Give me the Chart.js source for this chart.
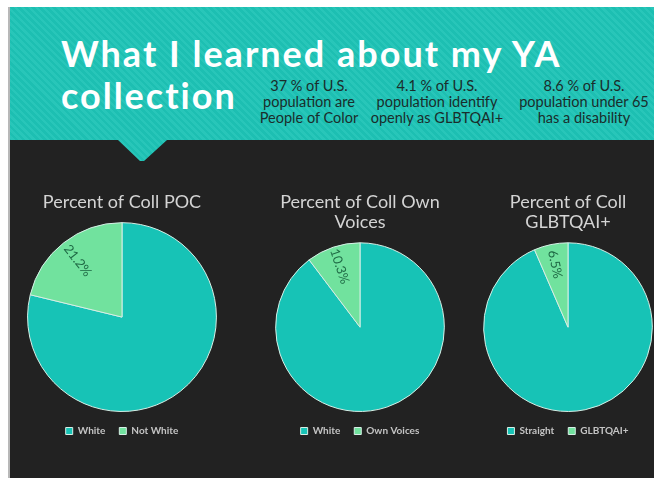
<!DOCTYPE html>
<html>
<head>
<meta charset="utf-8"/>
<style>
  html,body{margin:0;padding:0;background:#fff;width:654px;height:478px;overflow:hidden;position:relative;font-family:Lato,"Noto Sans",sans-serif;}
  .edge{position:absolute;left:8px;top:7px;width:2px;height:471px;background:#b8b8b8;}
  .slide{position:absolute;left:10px;top:7px;width:644px;height:471px;background:#222222;}
  .head{position:absolute;left:10px;top:7px;width:644px;height:156px;
    background:repeating-linear-gradient(45deg,#1dbfb2 0 2.5px,#28c6b9 2.5px 5px);
    clip-path:polygon(0 0,100% 0,100% 133px,157px 133px,134px 154px,130px 154px,108px 133px,0 133px);}
  .big{position:absolute;color:#fff;font-weight:700;font-size:36px;line-height:40px;letter-spacing:2px;white-space:nowrap;}
  .note{position:absolute;color:#1a2d2b;font-size:14.5px;line-height:16px;text-align:center;white-space:nowrap;transform:translateX(-50%);}
  canvas{position:absolute;}
</style>
</head>
<body>
<div class="slide"></div>
<div class="edge"></div>
<div class="head"></div>
<div class="big" style="left:61px;top:33px;">What I learned about my YA</div>
<div class="big" style="left:61px;top:75px;">collection</div>
<div class="note" style="left:309px;top:78px;">37 % of U.S.<br>population are<br>People of Color</div>
<div class="note" style="left:437px;top:78px;">4.1 % of U.S.<br>population identify<br>openly as GLBTQAI+</div>
<div class="note" style="left:584px;top:78px;">8.6 % of U.S.<br>population under 65<br>has a disability</div>

<canvas id="c1" width="210" height="256" style="left:17px;top:190px;"></canvas>
<canvas id="c2" width="210" height="256" style="left:255px;top:190px;"></canvas>
<canvas id="c3" width="210" height="256" style="left:463px;top:190px;"></canvas>

<script src="https://cdn.jsdelivr.net/npm/chart.js@4.4.0/dist/chart.umd.min.js"></script>
<script>
const TEAL = "#17c3b6";
const GREEN = "#71e29e";

// chart 1
const title1 = ["Percent of Coll POC"];
const cats1  = ["White", "Not White"];
const vals1  = [78.8, 21.2];
// chart 2
const title2 = ["Percent of Coll Own", "Voices"];
const cats2  = ["White", "Own Voices"];
const vals2  = [89.7, 10.3];
// chart 3
const title3 = ["Percent of Coll", "GLBTQAI+"];
const cats3  = ["Straight", "GLBTQAI+"];
const vals3  = [93.5, 6.5];

// rotated % label on the small slice, reading from the rim toward the centre
const sliceLabel = {
  id: "sliceLabel",
  afterDatasetsDraw(chart) {
    const ctx = chart.ctx;
    const arc = chart.getDatasetMeta(0).data[1];
    const v = chart.data.datasets[0].data[1];
    const mid = (arc.startAngle + arc.endAngle) / 2;
    const r = arc.outerRadius * 0.76;
    ctx.save();
    ctx.translate(arc.x + Math.cos(mid) * r, arc.y + Math.sin(mid) * r);
    ctx.rotate(mid + Math.PI);
    ctx.font = "13px Lato";
    ctx.fillStyle = "#1f6a45";
    ctx.textAlign = "center";
    ctx.textBaseline = "middle";
    ctx.fillText(v.toFixed(1) + "%", 0, 0);
    ctx.restore();
  }
};

function makePie(id, title, cats, vals) {
  new Chart(document.getElementById(id), {
    type: "pie",
    data: {
      labels: cats,
      datasets: [{
        data: vals,
        backgroundColor: [TEAL, GREEN],
        borderColor: "#d6efe6",
        borderWidth: 1
      }]
    },
    options: {
      responsive: false,
      animation: false,
      devicePixelRatio: 1,
      layout: { padding: 0 },
      plugins: {
        title: {
          display: true,
          text: title,
          color: "#d4d4d4",
          font: { family: "Lato", size: 18, weight: "normal", lineHeight: 1.12 },
          padding: { top: 2, bottom: 10 }
        },
        legend: {
          position: "bottom",
          labels: {
            color: "#c4c4c4",
            boxWidth: 7, boxHeight: 7,
            padding: 14,
            font: { family: "Lato", size: 10, weight: "bold" }
          }
        },
        tooltip: { enabled: false }
      }
    },
    plugins: [sliceLabel]
  });
}

makePie("c1", title1, cats1, vals1);
makePie("c2", title2, cats2, vals2);
makePie("c3", title3, cats3, vals3);
</script>
</body>
</html>
